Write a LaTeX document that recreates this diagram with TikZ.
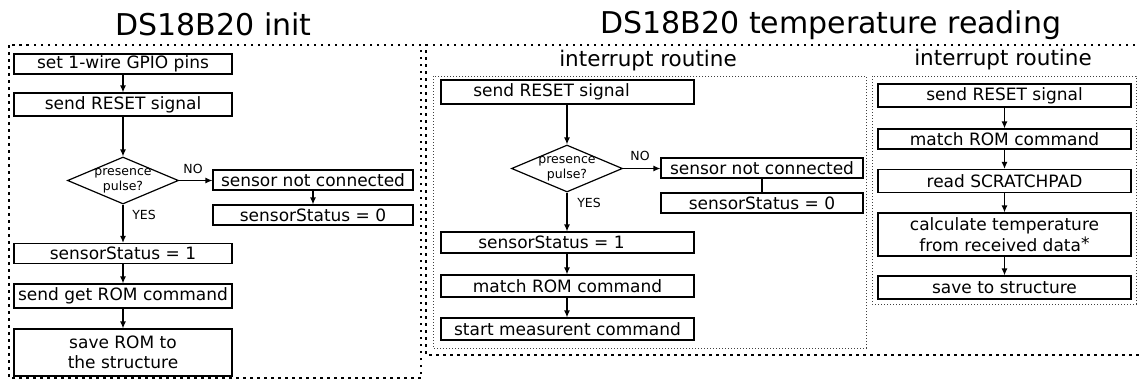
\documentclass[tikz,border=0pt]{standalone}
\usepackage{fontspec}
\setmainfont{DejaVu Sans}
\usetikzlibrary{shapes.geometric,arrows.meta}
\newcommand{\boxfont}{\fontsize{17}{20.5}\selectfont}
\newcommand{\smallfont}{\fontsize{12.5}{15}\selectfont}
\newcommand{\titlefont}{\fontsize{30}{36}\selectfont}
\newcommand{\subtitlefont}{\fontsize{21.5}{26}\selectfont}
\tikzset{
  stepbox/.style={draw, line width=1.2pt, inner sep=0pt, font=\boxfont, align=center, minimum width=#1},
  stepbox/.default=218pt,
  decision/.style={draw, diamond, line width=1.2pt, inner sep=0pt, minimum width=111pt, minimum height=47pt},
  dectext/.style={font=\smallfont, align=center, inner sep=0pt},
  lbl/.style={font=\smallfont, inner sep=0pt},
  conn/.style={line width=1.2pt, -{Latex[length=7pt,width=6pt]}},
  plainconn/.style={line width=1.2pt},
  outerframe/.style={line width=1.6pt, dash pattern=on 2.5pt off 4.5pt},
  innerframe/.style={line width=1pt, black!75, dash pattern=on 1pt off 2pt},
  titletext/.style={font=\titlefont, anchor=base, inner sep=0pt},
  subtitletext/.style={font=\subtitlefont, anchor=base, inner sep=0pt},
}
\begin{document}
\begin{tikzpicture}[x=1pt,y=-1pt]
\useasboundingbox (0,0) rectangle (1140,381);

% frames
\draw[outerframe] (9,45) rectangle (421,378);
\draw[outerframe] (1142,45) -- (426,45) -- (426,355) -- (1142,355);
\draw[innerframe] (433,76) rectangle (866,348);
\draw[innerframe] (872,76) rectangle (1136,304);

% titles
\node[titletext] (t1) at (213.5,35) {DS18B20 init};
\node[titletext] (t2) at (831,33) {DS18B20 temperature reading};
\node[subtitletext] (s1) at (648,66) {interrupt routine};
\node[subtitletext] (s2) at (1003,65) {interrupt routine};

% init column
\node[stepbox, minimum height=20pt] (n1) at (123,64) {set 1-wire GPIO pins};
\node[stepbox, minimum height=23pt] (n2) at (123,104.5) {send RESET signal};
\node[decision, label={[dectext]center:presence\\pulse?}] (d1) at (123,180.5) {};
\node[stepbox=200pt, minimum height=20pt] (n3) at (313,180) {sensor not connected};
\node[stepbox=200pt, minimum height=20pt] (n4) at (313,215) {sensorStatus = 0};
\node[stepbox, minimum height=20pt] (n5) at (123,253.5) {sensorStatus = 1};
\node[stepbox, minimum height=24pt] (n6) at (123,296) {send get ROM command};
\node[stepbox, minimum height=47pt] (n7) at (123,352.5) {save ROM to\\the structure};

\draw[conn] (n1) -- (n2);
\draw[conn] (n2) -- (d1);
\draw[conn] (d1.east) -- (d1.east -| n3.west);
\draw[conn] (n3) -- (n4);
\draw[conn] (d1) -- (n5);
\draw[conn] (n5) -- (n6);
\draw[conn] (n6) -- (n7);
\node[lbl] (no1) at (193,169) {NO};
\node[lbl] (yes1) at (144,215) {YES};

% temperature reading, first routine
\node[stepbox=253pt, minimum height=24pt] (m1) at (567.5,92) {send RESET signal\hspace*{32pt}};
\node[decision, label={[dectext]center:presence\\pulse?}] (d2) at (567,168.5) {};
\node[stepbox=202pt, minimum height=20pt] (m2) at (762,168) {sensor not connected};
\node[stepbox=202pt, minimum height=20pt] (m3) at (762,203) {sensorStatus = 0};
\node[stepbox=253pt, minimum height=21pt] (m4) at (567.5,242.5) {sensorStatus = 1\hspace*{32pt}};
\node[stepbox=253pt, minimum height=22pt] (m5) at (567.5,286) {match ROM command};
\node[stepbox=253pt, minimum height=22pt] (m6) at (567.5,329) {start measurent command};

\draw[conn] (m1.south -| d2) -- (d2);
\draw[conn] (d2.east) -- (d2.east -| m2.west);
\draw[plainconn] (m2) -- (m3);
\draw[conn] (d2) -- (d2 |- m4.north);
\draw[conn] (m4.south -| d2) -- (d2 |- m5.north);
\draw[conn] (m5.south -| d2) -- (d2 |- m6.north);
\node[lbl] (no2) at (640,156) {NO};
\node[lbl] (yes2) at (589,203) {YES};

% temperature reading, second routine
\node[stepbox=253pt, minimum height=23pt] (r1) at (1004.5,95.5) {send RESET signal};
\node[stepbox=253pt, minimum height=20pt] (r2) at (1004.5,139) {match ROM command};
\node[stepbox=253pt, minimum height=23pt] (r3) at (1004.5,181) {read SCRATCHPAD};
\node[stepbox=253pt, minimum height=43pt] (r4) at (1004.5,234.5) {calculate temperature\\ from received data\raisebox{2pt}{*}};
\node[stepbox=253pt, minimum height=23pt] (r5) at (1004.5,287.5) {save to structure};

\draw[conn] (r1) -- (r2);
\draw[conn] (r2) -- (r3);
\draw[conn] (r3) -- (r4);
\draw[conn] (r4) -- (r5);
\end{tikzpicture}
\end{document}
